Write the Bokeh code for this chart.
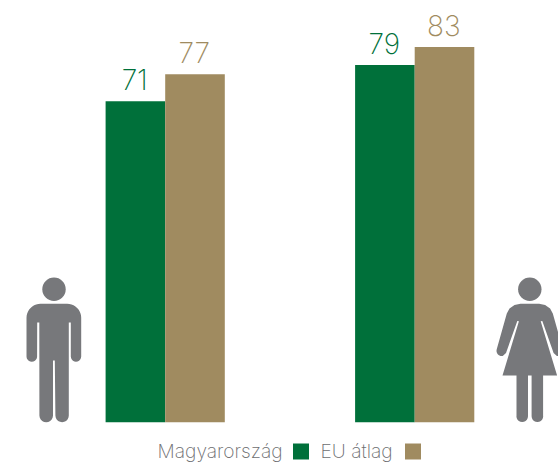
import math
from bokeh.core.properties import value
from bokeh.embed import file_html
from bokeh.models import ColumnDataSource, Label, Range1d
from bokeh.plotting import figure
from bokeh.resources import INLINE

groups = ["Férfi", "Nő"]
hungary = [71, 79]
eu_average = [77, 83]
series_names = ["Magyarország", "EU átlag"]

GREEN = "#00703A"
TAN = "#A08B60"
GRAY = "#77787B"
LEGEND_TEXT = "#6D6E71"
FONT = "Inter ExtraLight"

# layout: page pixels of the reference
W, H = 558, 467
GROUP0, GROUP_STEP = 164.7, 249.5
BASE_PX, PX_PER_UNIT = 421.7, 4.52


def dx(px):
    return (px - GROUP0) / GROUP_STEP


def dy(py):
    return (BASE_PX - py) / PX_PER_UNIT


p = figure(
    width=W, height=H, output_backend="svg", toolbar_location=None,
    x_range=Range1d(dx(0), dx(558)), y_range=Range1d(dy(467), dy(0)),
    min_border=0, min_border_left=0, min_border_right=0, min_border_top=0, min_border_bottom=0,
    outline_line_color=None, background_fill_color="white", border_fill_color="white",
)
p.axis.visible = False
p.grid.visible = False

bar_w = 59.6 / GROUP_STEP
idx = list(range(len(groups)))
left_src = ColumnDataSource(dict(x=[i - bar_w / 2 for i in idx], top=hungary, label=[str(v) for v in hungary]))
right_src = ColumnDataSource(dict(x=[i + bar_w / 2 for i in idx], top=eu_average, label=[str(v) for v in eu_average]))

for src, col in ((left_src, GREEN), (right_src, TAN)):
    p.vbar(x="x", top="top", bottom=0, width=bar_w, source=src, fill_color=col, line_color=None)
    p.text(x="x", y="top", text="label", source=src, text_color=col, text_align="center",
           text_baseline="alphabetic", y_offset=-22, x_offset=-0.7, text_font=value(FONT), text_font_size="28px")


def arc(cx, cy, r, a0, a1, n=10):
    return [(cx + r * math.cos(math.radians(a0 + (a1 - a0) * k / n)),
             cy + r * math.sin(math.radians(a0 + (a1 - a0) * k / n))) for k in range(n + 1)]


def draw(pts):
    p.patch([dx(a) for a, _ in pts], [dy(b) for _, b in pts], fill_color=GRAY, line_color=None)


# man pictogram
p.scatter([dx(53.5)], [dy(288.7)], size=23.4, marker="circle", fill_color=GRAY, line_color=None)
man = []
man += arc(40, 317.3, 14, 180, 270)
man += arc(66.7, 317.3, 14, 270, 360)
man += arc(75.5, 356, 5.2, 0, 180)
man += [(70.3, 322), (68.3, 322)]
man += arc(61.6, 415, 6.7, 0, 180)
man += [(54.3, 360), (52.5, 360)]
man += arc(45.7, 415, 6.8, 0, 180)
man += [(38.8, 322), (36.7, 322)]
man += arc(31.3, 356, 5.3, 0, 180)
draw(man)

# woman pictogram
WX = 529.3
p.scatter([dx(WX)], [dy(288.7)], size=23.4, marker="circle", fill_color=GRAY, line_color=None)


def mirror(pts):
    return [(2 * WX - a, b) for a, b in pts][::-1]


half = [(WX, 303.3), (520, 303.3), (514, 304.5), (509, 308), (506.3, 313), (496.3, 348.5)]
half += arc(501.3, 350.3, 5.3, 200, 80)
half += [(505.5, 352.5), (516.8, 320.5), (518.4, 320.8), (502, 375), (516, 375), (516, 415.5)]
half += arc(521.7, 415.8, 5.8, 180, 0)
half += [(527.5, 375), (WX, 375)]
draw(half + mirror(half))

# legend
for (x0, x1, col) in ((292.5, 308.5, GREEN), (404.5, 420.5, TAN)):
    p.quad(left=[dx(x0)], right=[dx(x1)], top=[dy(443)], bottom=[dy(459)], fill_color=col, line_color=None)
for name, xpx in zip(series_names, (157, 320)):
    p.add_layout(Label(x=xpx, y=H - 450, x_units="screen", y_units="screen", text=name,
                       text_color=LEGEND_TEXT, text_font=FONT, text_font_size="19.2px",
                       text_baseline="alphabetic", text_align="left"))

open("out.html", "w").write(file_html(p, INLINE))
